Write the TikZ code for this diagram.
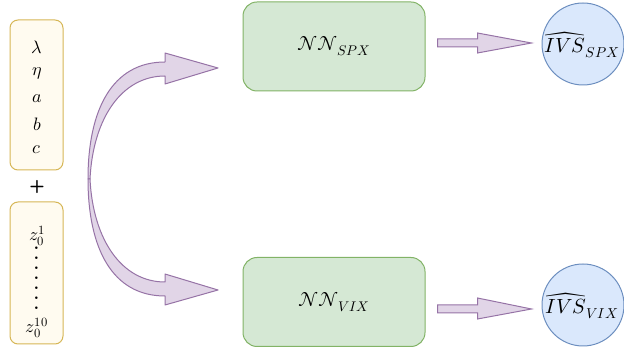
\documentclass[tikz,border=0pt]{standalone}
\usepackage{unicode-math}
\setmathfont{Latin Modern Math}
\usetikzlibrary{calc}
\definecolor{inpfill}{HTML}{FFFBF0}
\definecolor{inpdraw}{HTML}{D6B656}
\definecolor{nnfill}{HTML}{D5E8D4}
\definecolor{nndraw}{HTML}{82B366}
\definecolor{outfill}{HTML}{DAE8FC}
\definecolor{outdraw}{HTML}{6C8EBF}
\definecolor{arrfill}{HTML}{E1D5E7}
\definecolor{arrdraw}{HTML}{9673A6}
\tikzset{
  inbox/.style={draw=inpdraw, fill=inpfill, rounded corners=8pt, line width=1pt},
  nnbox/.style={draw=nndraw, fill=nnfill, rounded corners=14pt, line width=1pt, minimum width=182pt, minimum height=89pt, font=\fontsize{20}{24}\selectfont},
  outcirc/.style={circle, draw=outdraw, fill=outfill, line width=1pt, minimum size=82pt, inner sep=0pt},
  outlbl/.style={font=\fontsize{20.5}{24}\selectfont, inner sep=0pt},
  fatarrow/.style={draw=arrdraw, fill=arrfill, line width=1pt, line join=miter},
  curvearrow/.style={fatarrow, line join=round},
  lbl/.style={font=\fontsize{18}{21}\selectfont, inner sep=0pt},
  dotlbl/.style={font=\fontsize{18}{21}\selectfont\bfseries, inner sep=0pt, text height=2.5pt, text depth=0pt}
}
\begin{document}
\begin{tikzpicture}[x=1pt,y=-1pt]
\useasboundingbox (0,0) rectangle (624,352);
% input boxes
\draw[inbox] (10,20) rectangle (63,170);
\draw[inbox] (10,202) rectangle (63,344);
\node[lbl] (lam) at (37,47) {$\lambda$};
\node[lbl] (eta) at (37,73) {$\eta$};
\node[lbl] (pa) at (37,99) {$a$};
\node[lbl] (pb) at (37,124) {$b$};
\node[lbl] (pc) at (37,150) {$c$};
\node[font=\fontsize{18}{21}\selectfont\sffamily\bfseries, inner sep=0pt] (plus) at (37,187) {+};
\node[lbl] (z1) at (37,236) {$z_0^1$};
\foreach \i/\yy in {1/250,2/260,3/270,4/280,5/290,6/300,7/310}{
  \node[dotlbl, anchor=base] (d\i) at (36.5,\yy) {.};
}
\node[lbl] (z10) at (37,328) {$z_0^{10}$};
% NN boxes
\node[nnbox] (nn1) at (334,46.5) {$\mathcal{N}\mathcal{N}_{SPX}$};
\node[nnbox] (nn2) at (334,302) {$\mathcal{N}\mathcal{N}_{VIX}$};
% output circles
\node[outcirc] (o1) at (583,44) {};
\node[outcirc] (o2) at (583,305) {};
\node[outlbl] (l1) at (582,45) {$\widehat{IVS}_{SPX}$};
\node[outlbl] (l2) at (582,306) {$\widehat{IVS}_{VIX}$};
% curved arrows
\coordinate (S) at (88,179);
\coordinate (T1) at (218,68);
\coordinate (T2) at (218,290);
\draw[curvearrow] (S) .. controls (88,110) and (112,62) .. ($(T1)+(-53,-6)$)
  -- ($(T1)+(-53,-15)$) -- (T1) -- ($(T1)+(-53,16)$) -- ($(T1)+(-53,8)$)
  .. controls (122,76) and (93,118) .. ($(S)+(2,0)$) -- cycle;
\draw[curvearrow] (S) .. controls (88,248) and (112,296) .. ($(T2)+(-53,6)$)
  -- ($(T2)+(-53,15)$) -- (T2) -- ($(T2)+(-53,-16)$) -- ($(T2)+(-53,-8)$)
  .. controls (122,282) and (93,240) .. ($(S)+(2,0)$) -- cycle;
% straight fat arrows
\draw[fatarrow] ($(nn1.east)+(12,-7.5)$) -- ($(nn1.east)+(52,-7.5)$) -- ($(nn1.east)+(52,-13.5)$)
  -- ($(o1.west)+(-10,-1)$) -- ($(nn1.east)+(52,6.5)$) -- ($(nn1.east)+(52,0.5)$) -- ($(nn1.east)+(12,0.5)$) -- cycle;
\draw[fatarrow] ($(nn2.east)+(12,3)$) -- ($(nn2.east)+(52,3)$) -- ($(nn2.east)+(52,-4)$)
  -- ($(o2.west)+(-10,4)$) -- ($(nn2.east)+(52,17)$) -- ($(nn2.east)+(52,11)$) -- ($(nn2.east)+(12,11)$) -- cycle;
\end{tikzpicture}
\end{document}
